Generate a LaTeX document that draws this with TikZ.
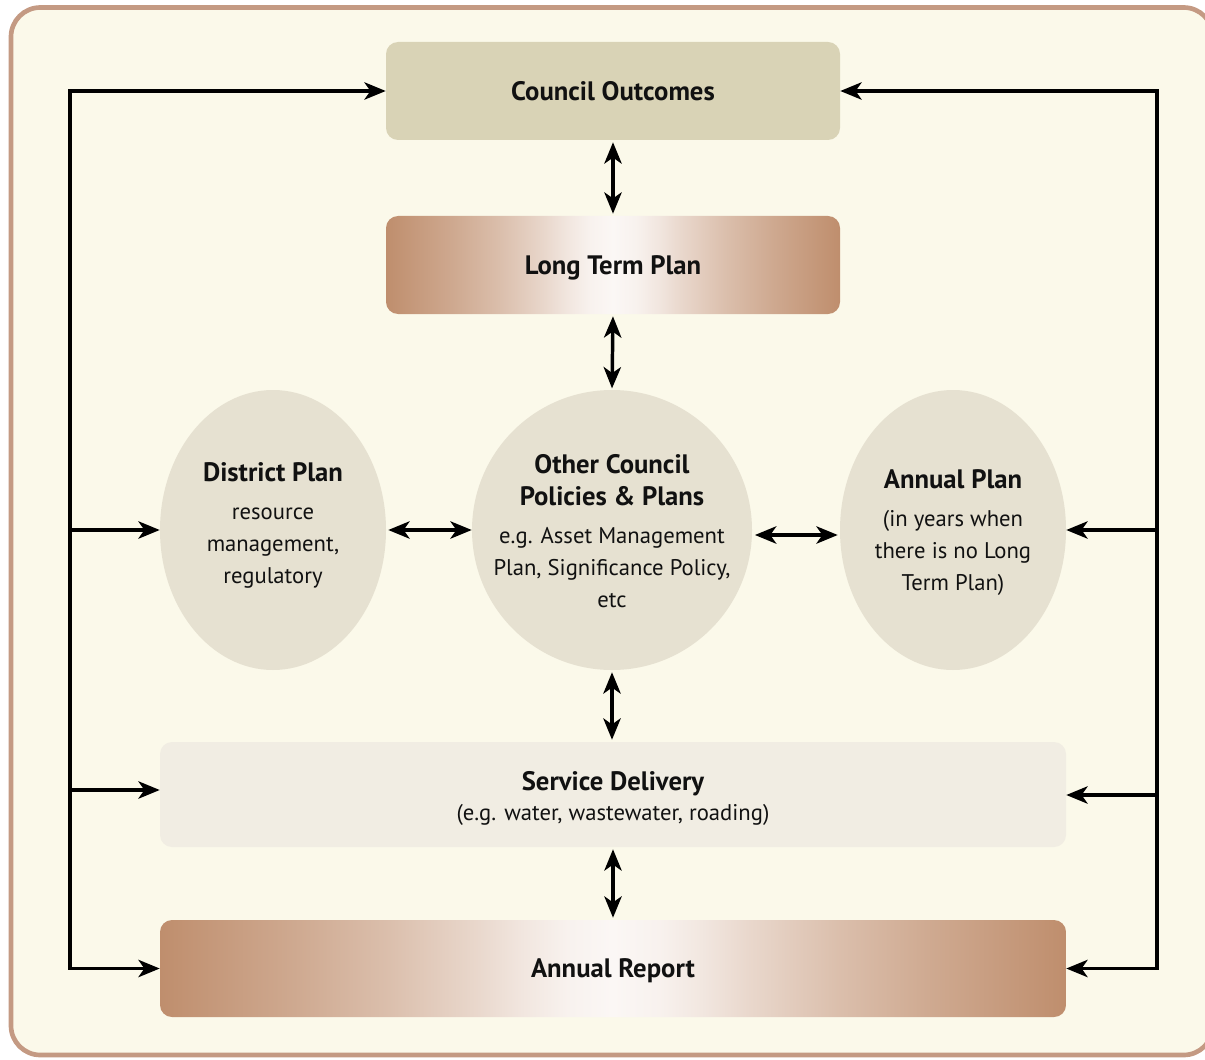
\documentclass[tikz,border=0pt]{standalone}
\usepackage{fontspec}
\setmainfont{PT Sans}
\usetikzlibrary{arrows.meta,shapes.geometric}
\definecolor{framefill}{HTML}{FBF9EA}
\definecolor{framedraw}{HTML}{C49A83}
\definecolor{cobox}{HTML}{D9D3B6}
\definecolor{ellfill}{HTML}{E6E1D1}
\definecolor{sdfill}{HTML}{F1EDE3}
\definecolor{brownedge}{HTML}{BF8E6D}
\definecolor{glowmid}{HTML}{FBF7F5}
\definecolor{ink}{HTML}{111111}
\pgfdeclarehorizontalshading{glow}{100bp}{color(0bp)=(brownedge); color(25bp)=(brownedge); color(32.5bp)=(brownedge!74!glowmid); color(37.5bp)=(brownedge!54!glowmid); color(42.5bp)=(brownedge!30!glowmid); color(45bp)=(brownedge!16!glowmid); color(47.5bp)=(brownedge!5!glowmid); color(50bp)=(glowmid); color(52.5bp)=(brownedge!5!glowmid); color(55bp)=(brownedge!16!glowmid); color(57.5bp)=(brownedge!30!glowmid); color(62.5bp)=(brownedge!54!glowmid); color(67.5bp)=(brownedge!74!glowmid); color(75bp)=(brownedge); color(100bp)=(brownedge)}
\newcommand\dtitle{\fontsize{20}{24}\selectfont\bfseries}
\newcommand\dbody{\fontsize{17}{24}\selectfont}
\begin{document}
\begin{tikzpicture}[x=0.75pt,y=-0.75pt,
  box/.style={rectangle, rounded corners=9pt, inner sep=0pt, text=ink, font=\dtitle, text depth=0pt},
  topbox/.style={box, minimum width=340.5pt, minimum height=73.5pt},
  widebox/.style={box, minimum width=679.5pt},
  shadedbox/.style={shading=glow},
  oval/.style={ellipse, fill=ellfill, inner sep=0pt, minimum width=169.5pt, minimum height=210pt},
  txt/.style={align=center, text=ink, font=\dbody, inner sep=0pt},
  arr/.style={line width=2.6pt, draw=black, -{Stealth[length=16pt,width=13pt,inset=4.5pt]}},
  dbl/.style={line width=2.6pt, draw=black, {Stealth[length=16pt,width=13pt,inset=4.5pt]}-{Stealth[length=16pt,width=13pt,inset=4.5pt]}}
]
\useasboundingbox (0,0) rectangle (1205,1059);
% frame
\draw[draw=framedraw, line width=3.5pt, fill=framefill, rounded corners=22pt] (11,7.5) rectangle (1213,1055);

% boxes
\node[topbox, fill=cobox] (co) at (613,91) {Council Outcomes};
\node[topbox, shadedbox] (ltp) at (613,265) {Long Term Plan};
\node[oval] (dp) at (273,530) {};
\node[oval, minimum width=210pt] (oc) at (612,530) {};
\node[oval] (ap) at (953,530) {};
\node[widebox, fill=sdfill, minimum height=78.75pt] (sd) at (613,794.5) {};
\node[widebox, shadedbox, minimum height=72.75pt] (ar) at (613,968.5) {Annual Report};

% texts
\node[txt] (dpt) at (273,525) {{\dtitle District Plan}\\[4.5pt]resource\\management,\\regulatory};
\node[txt] (oct) at (612,531) {{\dtitle Other Council}\\{\dtitle Policies \& Plans}\\[5pt]e.g. Asset Management\\Plan, Significance Policy,\\etc};
\node[txt] (apt) at (953,533) {{\dtitle Annual Plan}\\[4.5pt](in years when\\there is no Long\\Term Plan)};
\node[txt] (sdt) at (613,798) {{\dtitle Service Delivery}\\[-1.5pt](e.g. water, wastewater, roading)};

% trunk coordinates
\coordinate (lt) at (70,91);
\coordinate (lb) at (70,968.5);
\coordinate (l2) at (70,530);
\coordinate (l3) at (70,790);
\coordinate (rt) at (1157,91);
\coordinate (rb) at (1157,968.5);
\coordinate (r2) at (1157,530);
\coordinate (r3) at (1157,795);

% side trunks
\draw[dbl] (co.west) -- (lt) -- (lb) -- (ar.west);
\draw[dbl] (co.east) -- (rt) -- (rb) -- (ar.east);
\draw[arr] (l2) -- (dp.west);
\draw[arr] (l3) -- (l3 -| sd.west);
\draw[arr] (r2) -- (ap.east);
\draw[arr] (r3) -- (r3 -| sd.east);

% central connectors
\draw[dbl, shorten <=1.5pt, shorten >=1.5pt] (co.south) -- (ltp.north);
\draw[dbl, shorten <=1.5pt, shorten >=1pt] (ltp.south) -- (oc.north);
\draw[dbl, shorten <=1.5pt, shorten >=1.5pt] (oc.south) -- (oc.south |- sd.north);
\draw[dbl, shorten <=1.5pt, shorten >=1.5pt] (sd.south) -- (ar.north);
\draw[dbl, shorten <=1.5pt] (dp.east) -- (oc.west);
\draw[dbl, shorten <=2pt, shorten >=1.5pt] ([yshift=-3.75pt]oc.east) -- ([yshift=-3.75pt]ap.west);
\end{tikzpicture}
\end{document}
